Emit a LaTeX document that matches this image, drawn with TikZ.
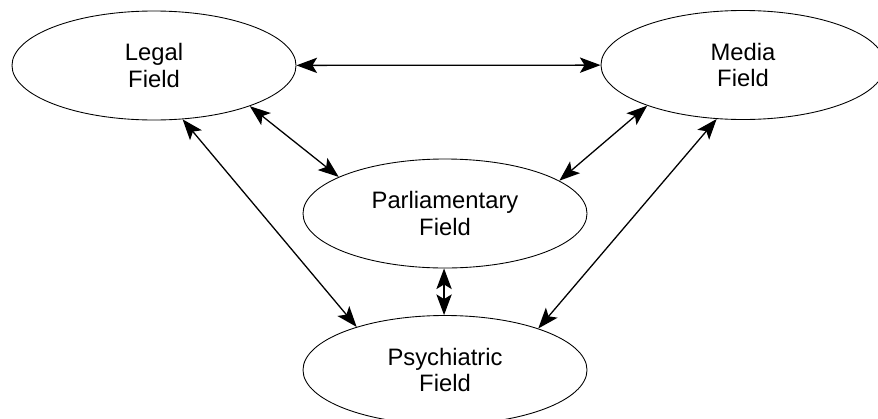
\documentclass[tikz,border=0pt]{standalone}
\usepackage{fontspec}
\setmainfont{Liberation Sans}
\usetikzlibrary{arrows.meta, shapes.geometric}

\begin{document}
\begin{tikzpicture}[x = 0.03cm, y = -0.03cm]
\tikzstyle{FieldStyle}=[shape = ellipse,
                        minimum width = 8.52cm,
                        minimum height = 3.27cm,
                        inner sep = 0pt,
                        line width = 0.75pt,
                        align = center,
                        font = \fontsize{20.3}{22.8}\selectfont,
                        draw]
\tikzstyle{LinkStyle}=[{Stealth[length = 0.62cm, width = 0.46cm, inset = 0.14cm]}-{Stealth[length = 0.62cm, width = 0.46cm, inset = 0.14cm]},
                       line width = 1.1pt]
\useasboundingbox (0, 0) rectangle (878, 418);
\node[FieldStyle] (legal) at (154, 65.5) {Legal\\Field};
\node[FieldStyle] (media) at (743, 65) {Media\\Field};
\node[FieldStyle] (parl) at (445, 213.5) {Parliamentary\\Field};
\node[FieldStyle] (psych) at (445, 370) {Psychiatric\\Field};
\draw[LinkStyle] (legal) -- (media);
\draw[LinkStyle] (legal.-23) -- (parl.161);
\draw[LinkStyle] (legal.-62) -- (psych.154);
\draw[LinkStyle] (media.-157) -- (parl.16.5);
\draw[LinkStyle] (media.-116) -- (psych.24);
\draw[LinkStyle] (parl.-91) -- (psych.91);
\end{tikzpicture}
\end{document}
